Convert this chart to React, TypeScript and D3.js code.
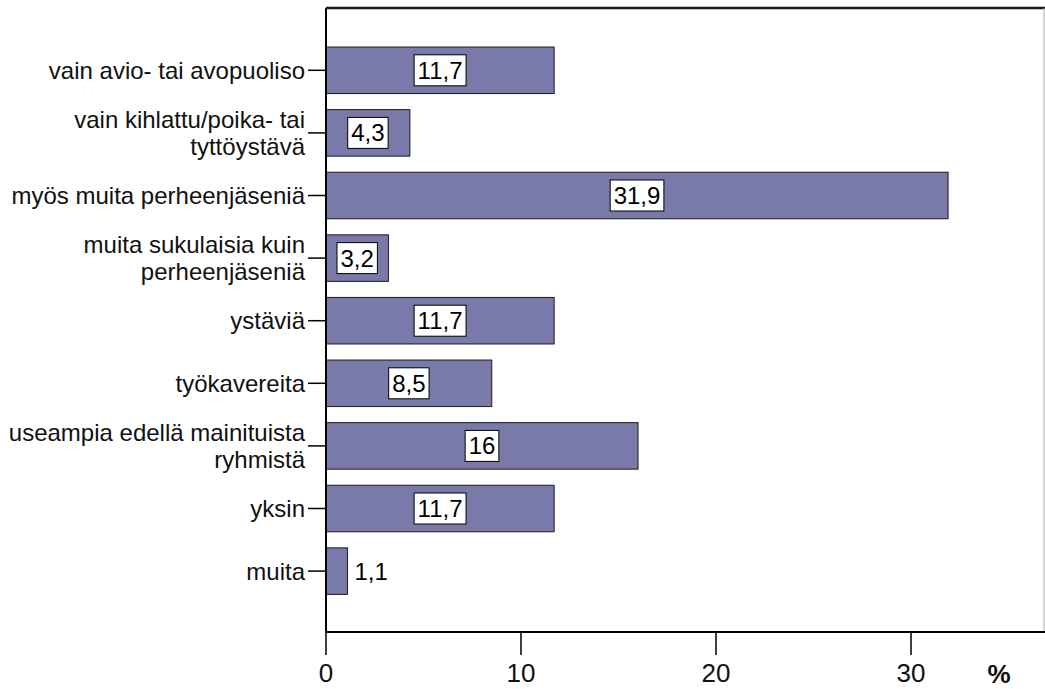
import React, { useEffect, useRef } from "react";
import * as d3 from "d3";

// Category labels (line breaks mark wrapped labels)
const categories: string[][] = [
  ["vain avio- tai avopuoliso"],
  ["vain kihlattu/poika- tai", "tyttöystävä"],
  ["myös muita perheenjäseniä"],
  ["muita sukulaisia kuin", "perheenjäseniä"],
  ["ystäviä"],
  ["työkavereita"],
  ["useampia edellä mainituista", "ryhmistä"],
  ["yksin"],
  ["muita"],
];
const values: number[] = [11.7, 4.3, 31.9, 3.2, 11.7, 8.5, 16, 11.7, 1.1];
const xTicks: number[] = [0, 10, 20, 30];
const unitLabel = "%";

const W = 1045;
const H = 689;
const FONT = "'Liberation Sans', Arial, Helvetica, sans-serif";

const fmt = (v: number) => String(v).replace(".", ",");

export default function App() {
  const ref = useRef<SVGSVGElement | null>(null);

  useEffect(() => {
    document.body.style.margin = "0";
    const svg = d3.select(ref.current);
    svg.selectAll("*").remove();

    const left = 326;
    const right = 1044;
    const top = 8;
    const bottom = 632;

    const x = d3.scaleLinear().domain([0, 36.82]).range([left, right]);
    const idx = categories.map((_, i) => String(i));
    const y = d3
      .scaleBand<string>()
      .domain(idx)
      .range([39, 602.4])
      .paddingInner(0.257)
      .paddingOuter(0.1285);

    const g = svg.append("g").attr("font-family", FONT);

    // frame: top and right edges
    g.append("line")
      .attr("x1", left).attr("x2", right + 1)
      .attr("y1", top).attr("y2", top)
      .attr("stroke", "#1a1a1a").attr("stroke-width", 2.5);
    g.append("line")
      .attr("x1", right).attr("x2", right)
      .attr("y1", top).attr("y2", bottom)
      .attr("stroke", "#aaaaaa").attr("stroke-width", 1);

    // bars
    g.selectAll("rect.bar")
      .data(values)
      .join("rect")
      .attr("class", "bar")
      .attr("x", x(0))
      .attr("y", (_, i) => y(String(i))!)
      .attr("width", (d) => x(d) - x(0))
      .attr("height", y.bandwidth())
      .attr("fill", "#7a7aaa")
      .attr("stroke", "#1a1a1a")
      .attr("stroke-width", 1);

    // value labels: boxed inside the bar, or plain beside a short bar
    values.forEach((v, i) => {
      const cy = y(String(i))! + y.bandwidth() / 2;
      const label = fmt(v);
      if (v >= 2) {
        const cx = (x(0) + x(v)) / 2;
        const t = g
          .append("text")
          .attr("x", cx)
          .attr("y", cy + 8.5)
          .attr("text-anchor", "middle")
          .attr("font-size", 24)
          .attr("fill", "#000")
          .text(label);
        const bb = (t.node() as SVGTextElement).getBBox();
        g.insert("rect", () => t.node() as any)
          .attr("x", bb.x - 3.5)
          .attr("y", cy - 15.5)
          .attr("width", bb.width + 7)
          .attr("height", 31)
          .attr("fill", "#fff")
          .attr("stroke", "#000")
          .attr("stroke-width", 1);
      } else {
        g.append("text")
          .attr("x", x(v) + 7)
          .attr("y", cy + 8.5)
          .attr("font-size", 24)
          .attr("fill", "#000")
          .text(label);
      }
    });

    // category axis
    g.append("line")
      .attr("x1", left).attr("x2", left)
      .attr("y1", top).attr("y2", bottom)
      .attr("stroke", "#000").attr("stroke-width", 2);
    categories.forEach((lines, i) => {
      const cy = y(String(i))! + y.bandwidth() / 2;
      g.append("line")
        .attr("x1", left - 18).attr("x2", left)
        .attr("y1", cy).attr("y2", cy)
        .attr("stroke", "#000").attr("stroke-width", 1.5);
      const lh = 27;
      const y0 = cy - ((lines.length - 1) * lh) / 2 + 8.5;
      lines.forEach((ln, j) => {
        g.append("text")
          .attr("x", left - 21)
          .attr("y", y0 + j * lh)
          .attr("text-anchor", "end")
          .attr("font-size", 24)
          .attr("fill", "#111")
          .text(ln);
      });
    });

    // value axis
    g.append("line")
      .attr("x1", left - 1).attr("x2", right + 1)
      .attr("y1", bottom).attr("y2", bottom)
      .attr("stroke", "#000").attr("stroke-width", 2);
    xTicks.forEach((t) => {
      g.append("line")
        .attr("x1", x(t)).attr("x2", x(t))
        .attr("y1", bottom).attr("y2", bottom + 23)
        .attr("stroke", "#000").attr("stroke-width", 1.5);
      g.append("text")
        .attr("x", x(t))
        .attr("y", 682)
        .attr("text-anchor", "middle")
        .attr("font-size", 26)
        .attr("fill", "#111")
        .text(String(t));
    });
    g.append("text")
      .attr("x", 999)
      .attr("y", 683)
      .attr("text-anchor", "middle")
      .attr("font-size", 26)
      .attr("font-weight", "bold")
      .attr("fill", "#111")
      .text(unitLabel);
  }, []);

  return (
    <svg
      ref={ref}
      width={W}
      height={H}
      style={{ position: "absolute", left: 0, top: 0, background: "#fff" }}
    />
  );
}
